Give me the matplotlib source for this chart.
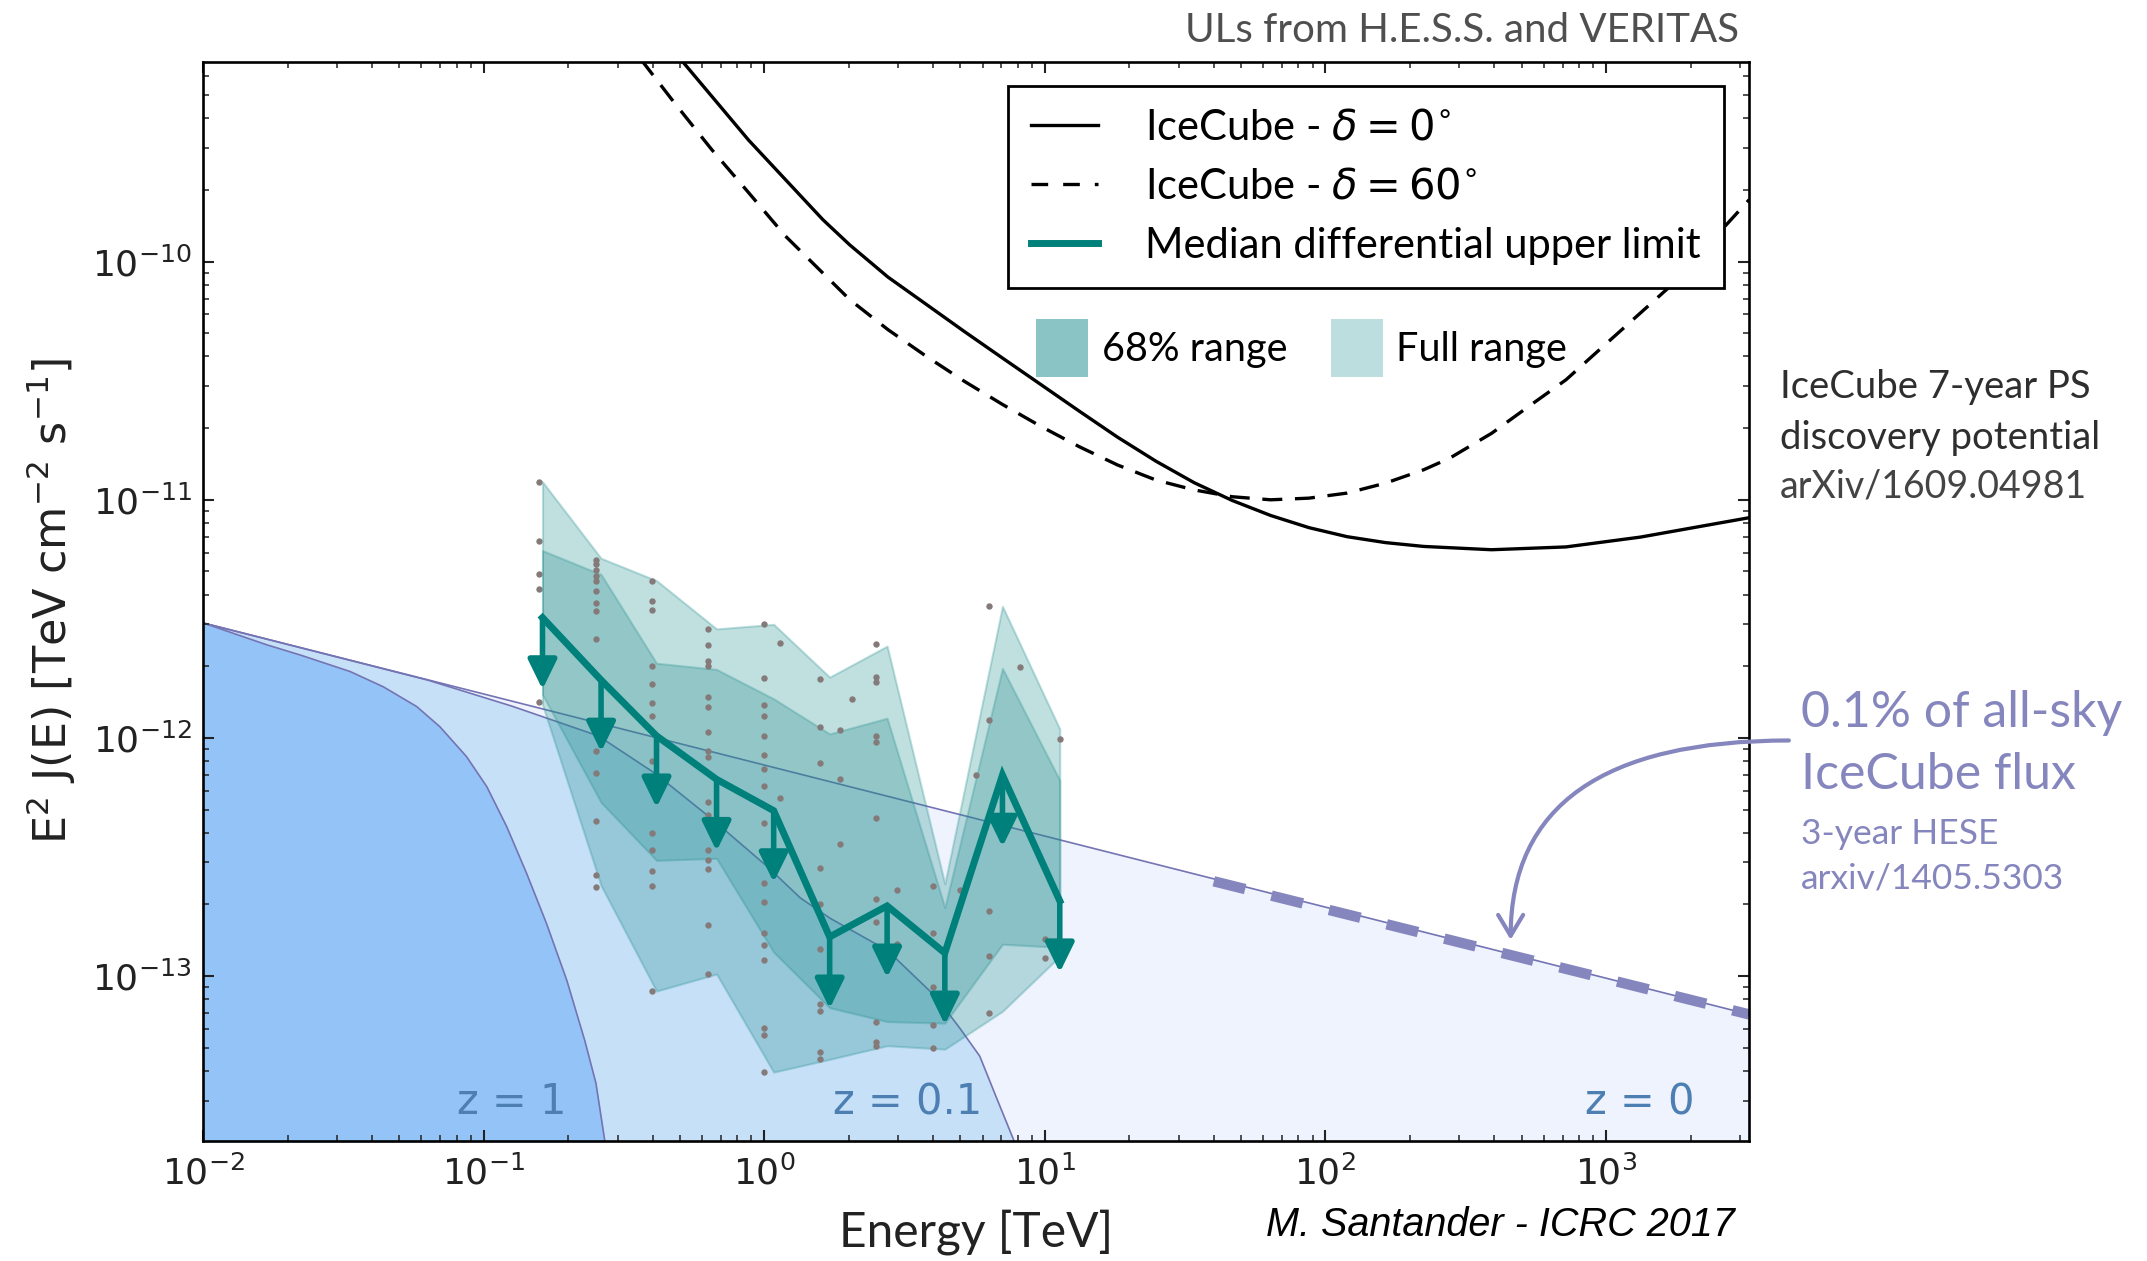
import matplotlib.pyplot as plt
from matplotlib.patches import Patch
from matplotlib.lines import Line2D

# IceCube 7-year point-source discovery potential, E^2 J(E) in TeV cm^-2 s^-1
ic0_E = [0.479, 0.879, 1.618, 2.018, 2.761, 3.784, 5.176, 7.079, 9.705, 13.27, 18.16, 24.89, 34.04, 46.56,
         63.83, 87.3, 119.4, 163.7, 223.9, 390.8, 719.5, 1324, 3236]
ic0_F = [7.59e-10, 3.24e-10, 1.50e-10, 1.175e-10, 8.61e-11, 6.61e-11, 5.08e-11, 3.93e-11, 3.04e-11, 2.355e-11,
         1.832e-11, 1.452e-11, 1.18e-11, 9.93e-12, 8.59e-12, 7.64e-12, 7.00e-12, 6.61e-12, 6.37e-12, 6.17e-12,
         6.34e-12, 6.97e-12, 8.41e-12]
ic60_E = [0.363, 0.478, 0.649, 0.879, 1.19, 1.618, 2.018, 2.761, 3.784, 5.176, 7.079, 9.705, 13.27, 18.16,
          24.89, 34.04, 46.56, 63.83, 87.3, 119.4, 163.7, 223.9, 277.3, 391.7, 531, 719.5, 977, 1324, 1690, 3236]
ic60_F = [7.08e-10, 4.65e-10, 2.96e-10, 1.95e-10, 1.28e-10, 8.95e-11, 6.92e-11, 5.18e-11, 4.0e-11, 3.14e-11,
          2.51e-11, 2.03e-11, 1.67e-11, 1.40e-11, 1.21e-11, 1.10e-11, 1.03e-11, 1.00e-11, 1.016e-11, 1.067e-11,
          1.175e-11, 1.337e-11, 1.496e-11, 1.905e-11, 2.47e-11, 3.19e-11, 4.41e-11, 6.08e-11, 7.87e-11, 1.82e-10]

# 0.1% of the all-sky flux for sources at z = 0, 0.1 and 1
z0_E = [0.01, 3236]
z0_F = [3.04e-12, 6.9e-14]
z01_E = [0.01, 0.0631, 0.126, 0.256, 0.408, 0.650, 1.026, 1.343, 1.714, 2.75, 4.11, 4.98, 5.86, 6.71, 7.74, 8.32]
z01_F = [3.04e-12, 1.75e-12, 1.36e-12, 1.02e-12, 7.10e-13, 4.57e-13, 2.88e-13, 2.13e-13, 1.75e-13, 1.28e-13,
         8.13e-14, 6.03e-14, 4.61e-14, 3.10e-14, 2.05e-14, 1.58e-14]
z1_E = [0.01, 0.01687, 0.02218, 0.03342, 0.04385, 0.05768, 0.06982, 0.0869, 0.1026, 0.1208, 0.1422, 0.1675,
        0.1977, 0.2291, 0.2512, 0.2723]
z1_F = [3.04e-12, 2.46e-12, 2.23e-12, 1.90e-12, 1.64e-12, 1.355e-12, 1.114e-12, 8.34e-13, 6.24e-13, 4.24e-13,
        2.70e-13, 1.66e-13, 9.61e-14, 5.37e-14, 3.55e-14, 1.91e-14]
hese_E = [40, 3236]
hese_F = [2.5e-13, 6.9e-14]

# differential upper limits from H.E.S.S. and VERITAS
ul_E = [0.162, 0.262, 0.413, 0.676, 1.08, 1.71, 2.74, 4.40, 7.06, 11.3]
ul_median = [3.2e-12, 1.75e-12, 1.02e-12, 6.7e-13, 4.95e-13, 1.46e-13, 1.97e-13, 1.25e-13, 6.98e-13, 2.07e-13]
ul_full_hi = [1.19e-11, 5.68e-12, 4.58e-12, 2.87e-12, 3.0e-12, 1.8e-12, 2.43e-12, 2.44e-13, 3.57e-12, 1.09e-12]
ul_68_hi = [6.12e-12, 4.86e-12, 2.06e-12, 1.94e-12, 1.46e-12, 1.04e-12, 1.21e-12, 1.94e-13, 1.96e-12, 6.64e-13]
ul_68_lo = [1.52e-12, 5.36e-13, 3.06e-13, 3.12e-13, 1.26e-13, 7.36e-14, 6.44e-14, 6.34e-14, 1.36e-13, 1.32e-13]
ul_full_lo = [1.38e-12, 2.4e-13, 8.65e-14, 1.02e-13, 3.95e-14, 4.47e-14, 5.1e-14, 4.93e-14, 7.11e-14, 1.21e-13]

# individual source limits
src_E = ([0.158] * 5 + [0.251] * 14 + [0.398] * 14 + [0.631] * 16 + [1.0] * 18 + [1.14] * 2
         + [1.585] * 11 + [1.86] * 3 + [2.51] * 11 + [2.05] + [2.96] * 2 + [3.98] * 5 + [4.98]
         + [6.31] * 5 + [8.15] + [5.7] + [10.0] * 2 + [11.3])
src_F = [1.19e-11, 6.71e-12, 4.86e-12, 4.23e-12, 1.42e-12,
         5.6e-12, 5.38e-12, 5.07e-12, 4.78e-12, 4.58e-12, 4.15e-12, 3.68e-12, 3.40e-12, 2.61e-12, 8.85e-13,
         7.10e-13, 4.48e-13, 2.66e-13, 2.36e-13,
         4.58e-12, 3.75e-12, 3.46e-12, 2.01e-12, 1.68e-12, 1.40e-12, 1.24e-12, 8.02e-13, 6.56e-13, 3.97e-13,
         3.38e-13, 2.77e-13, 2.40e-13, 8.65e-14,
         2.87e-12, 2.46e-12, 2.10e-12, 2.01e-12, 1.49e-12, 1.35e-12, 1.06e-12, 8.85e-13, 8.34e-13, 5.36e-13,
         4.75e-13, 3.38e-13, 3.06e-13, 2.82e-13, 1.64e-13, 1.02e-13,
         3.0e-12, 1.79e-12, 1.38e-12, 1.24e-12, 1.02e-12, 8.51e-13, 7.40e-13, 6.30e-13, 4.39e-13, 3.31e-13,
         2.45e-13, 2.05e-13, 1.52e-13, 1.35e-13, 1.17e-13, 6.03e-14, 5.68e-14, 3.95e-14,
         2.51e-12, 5.58e-13,
         1.77e-12, 1.11e-12, 7.83e-13, 2.84e-13, 2.0e-13, 1.30e-13, 9.77e-14, 7.60e-14, 7.11e-14, 4.78e-14,
         4.47e-14,
         1.08e-12, 6.75e-13, 3.58e-13,
         2.47e-12, 1.80e-12, 1.71e-12, 1.02e-12, 9.57e-13, 4.60e-13, 2.10e-13, 1.69e-13, 6.44e-14, 5.27e-14,
         5.1e-14,
         1.45e-12, 2.29e-13, 1.36e-13,
         2.40e-13, 1.51e-13, 9.0e-14, 6.24e-14, 5.01e-14, 2.29e-13,
         3.57e-12, 1.19e-12, 1.87e-13, 1.21e-13, 7.0e-14, 1.99e-12, 6.98e-13,
         1.43e-13, 1.19e-13, 9.9e-13]

x_ticks = [1e-2, 1e-1, 1, 10, 100, 1000]
y_ticks = [1e-13, 1e-12, 1e-11, 1e-10]

teal = '#00807a'
band = '#1f8c8c'
lilac = '#8686be'
edge = '#7474b4'
ylo = 1e-15

fig = plt.figure(figsize=(21.47, 12.61), dpi=100)
ax = fig.add_axes([0.0946, 0.0952, 0.7201, 0.8557])
ax.set_xscale('log')
ax.set_yscale('log')

# redshift shells, drawn back to front
ax.fill_between(z0_E, ylo, z0_F, color='#eef3fd', lw=0, zorder=1)
ax.fill_between(z01_E, ylo, z01_F, color='#c6e0f7', lw=0, zorder=1.1)
ax.fill_between(z1_E, ylo, z1_F, color='#94c4f7', lw=0, zorder=1.2)
for xs, ys in [(z0_E, z0_F), (z01_E, z01_F), (z1_E, z1_F)]:
    ax.plot(xs, ys, color=edge, lw=1.2, zorder=1.5)
ax.plot(hese_E, hese_F, color=lilac, lw=7.5, dashes=(3.1, 2.6), dash_capstyle='butt', zorder=1.6)

# upper limit bands
ax.fill_between(ul_E, ul_full_lo, ul_full_hi, color=band, alpha=0.28, lw=1.5, zorder=2)
ax.fill_between(ul_E, ul_68_lo, ul_68_hi, color=band, alpha=0.28, lw=1.5, zorder=2.1)
ax.plot(src_E, src_F, 'o', color='#857a7a', ms=4.6, mew=0, zorder=2.5)

ax.plot(ul_E, ul_median, color=teal, lw=5, solid_joinstyle='miter', zorder=3)
for e, f in zip(ul_E, ul_median):
    ax.annotate('', xy=(e, f / 2), xytext=(e, f),
                arrowprops=dict(arrowstyle='-|>,head_length=0.45,head_width=0.22', color=teal,
                                lw=4, mutation_scale=40, shrinkA=0, shrinkB=0),
                zorder=3)

ax.plot(ic0_E, ic0_F, color='black', lw=2.4, zorder=4)
ax.plot(ic60_E, ic60_F, color='black', lw=2.4, dashes=(6, 3.8), zorder=4)

ax.set_xlim(1e-2, 3236)
ax.set_ylim(2.03e-14, 6.9e-10)
ax.set_xticks(x_ticks)
ax.set_yticks(y_ticks)
ax.tick_params(which='both', direction='in', top=True, right=True, labelsize=26,
               color='#222222', labelcolor='#222222')
ax.tick_params(which='major', length=8, width=1.5)
ax.tick_params(which='minor', length=4.5, width=1.1)
ax.tick_params(axis='x', pad=10)
ax.tick_params(axis='y', pad=8)
for s in ax.spines.values():
    s.set_linewidth(1.9)
    s.set_zorder(5)

ax.set_xlabel('Energy [TeV]', fontfamily='Lato', fontsize=34.5, color='#222222', va='center')
ax.xaxis.set_label_coords(0.5, -0.084)
ax.set_ylabel('E$^2$ J(E) [TeV cm$^{-2}$ s$^{-1}$]', fontsize=32, color='#222222',
              va='center', ha='center')
ax.yaxis.set_label_coords(-0.098, 0.5)

# redshift labels
zcol = '#4d7fb3'
ax.text(0.126, 2.95e-14, 'z = 1', color=zcol, fontsize=30, ha='center', va='center', zorder=6)
ax.text(3.25, 2.95e-14, 'z = 0.1', color=zcol, fontsize=30, ha='center', va='center', zorder=6)
ax.text(1318, 2.95e-14, 'z = 0', color=zcol, fontsize=30, ha='center', va='center', zorder=6)

# legends
line_handles = [Line2D([], [], color='black', lw=2.4),
                Line2D([], [], color='black', lw=2.4, dashes=(5, 4.5)),
                Line2D([], [], color=teal, lw=5)]
line_labels = ['IceCube - $\\delta = 0^{\\circ}$', 'IceCube - $\\delta = 60^{\\circ}$',
               'Median differential upper limit']
leg1 = ax.legend(line_handles, line_labels, loc='upper right', bbox_to_anchor=(1724 / 2147, 1 - 86 / 1261),
                 bbox_transform=fig.transFigure, fancybox=False, framealpha=1, edgecolor='black',
                 prop={'family': 'Lato', 'size': 30}, handlelength=1.6, handletextpad=1.15,
                 borderpad=0.55, labelspacing=0.5, borderaxespad=0)
leg1.get_frame().set_linewidth(2)
leg1.set_zorder(7)
ax.add_artist(leg1)

band_handles = [Patch(facecolor='#8ac4c4', lw=0), Patch(facecolor='#bddede', lw=0)]
leg2 = ax.legend(band_handles, ['68% range', 'Full range'], ncol=2, loc='center left',
                 bbox_to_anchor=(1036 / 2147, 1 - 348 / 1261), bbox_transform=fig.transFigure,
                 frameon=False, prop={'family': 'Lato', 'size': 28.5}, handlelength=1.31,
                 handleheight=1.86, handletextpad=0.35, columnspacing=1.1, borderpad=0, borderaxespad=0)
leg2.set_zorder(7)

# side notes
fig.text(0.81, 0.976, 'ULs from H.E.S.S. and VERITAS', ha='right', va='center', family='Lato',
         fontsize=29, color='#4f4f4f')
fig.text(0.829, 0.693, 'IceCube 7-year PS', ha='left', va='center', family='Lato', fontsize=27.5,
         color='#2e2e2e')
fig.text(0.829, 0.653, 'discovery potential', ha='left', va='center', family='Lato', fontsize=27.5,
         color='#2e2e2e')
fig.text(0.829, 0.614, 'arXiv/1609.04981', ha='left', va='center', family='Lato', fontsize=27,
         color='#444444')
fig.text(0.839, 0.4346, '0.1% of all-sky', ha='left', va='center', family='Lato', fontsize=36, color=lilac)
fig.text(0.839, 0.3854, 'IceCube flux', ha='left', va='center', family='Lato', fontsize=36, color=lilac)
fig.text(0.839, 0.3386, '3-year HESE', ha='left', va='center', family='Lato', fontsize=25.5, color=lilac)
fig.text(0.839, 0.3037, 'arxiv/1405.5303', ha='left', va='center', family='Lato', fontsize=25.5, color=lilac)
fig.text(0.699, 0.0285, 'M. Santander - ICRC 2017', ha='center', va='center', family='Liberation Sans',
         style='italic', fontsize=28.5, color='black')

ax.annotate('', xy=(457, 1.42e-13), xycoords='data', xytext=(0.8332, 0.4128), textcoords='figure fraction',
            arrowprops=dict(arrowstyle='->,head_length=0.5,head_width=0.3', color=lilac, lw=3,
                            mutation_scale=30, shrinkA=0, shrinkB=0,
                            connectionstyle='angle3,angleA=0,angleB=90'),
            annotation_clip=False, zorder=8)

fig.savefig('out.png', dpi=100)
